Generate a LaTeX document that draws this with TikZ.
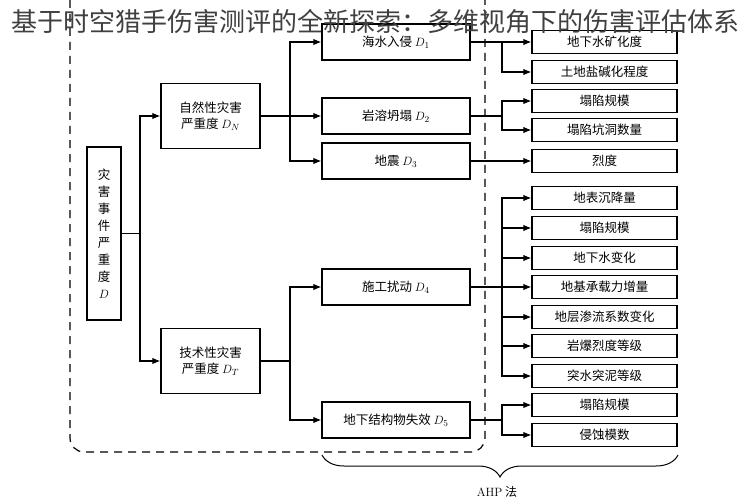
\documentclass[tikz,border=0pt]{standalone}
\usepackage{fontspec}
\setmainfont{Noto Sans CJK SC}
\newfontfamily\latinfont{Latin Modern Roman}
\usetikzlibrary{arrows.meta,decorations.pathreplacing}
\begin{document}
\begin{tikzpicture}[x=1pt,y=-1pt,
	box/.style={draw,line width=1.3pt,inner sep=0pt,align=center,font=\fontsize{12.5}{16}\selectfont},
	leaf/.style={box,minimum width=145pt,minimum height=23pt},
	mid/.style={box,minimum width=148pt,minimum height=36pt},
	cat/.style={box,minimum width=99pt,minimum height=65pt},
	link/.style={line width=1.1pt},
	arr/.style={link,-{Latex[length=8pt,width=6.5pt]}}]
	\useasboundingbox (0,0) rectangle (749,500);
	
	%AHP region
	\draw[line width=1.2pt,dash pattern=on 8pt off 6pt,rounded corners=14pt] (70,0) -- (70,452) -- (485,452) -- (485,0);
	
	%root and categories
	\node[box,minimum width=34pt,minimum height=173pt,font=\fontsize{12.5}{17}\selectfont] (root) at (104,233.5) {灾\\害\\事\\件\\严\\重\\度\\$D$};
	\node[cat] (nd) at (210.5,116) {自然性灾害\\严重度 $D_N$};
	\node[cat] (td) at (210.5,361) {技术性灾害\\严重度 $D_T$};
	
	%factors
	\node[mid] (d1) at (396,42) {海水入侵 $D_1$};
	\node[mid] (d2) at (396,116) {岩溶坍塌 $D_2$};
	\node[mid] (d3) at (396,161) {地震 $D_3$};
	\node[mid] (d4) at (396,287) {施工扰动 $D_4$};
	\node[mid] (d5) at (396,420) {地下结构物失效 $D_5$};
	
	%indicators
	\foreach \n/\y/\t in {l1/42/地下水矿化度, l2/72/土地盐碱化程度, l3/101/塌陷规模, l4/130/塌陷坑洞数量,
		l5/161/烈度, l6/198/地表沉降量, l7/228/塌陷规模, l8/258/地下水变化, l9/287/地基承载力增量,
		l10/317/地层渗流系数变化, l11/346/岩爆烈度等级, l12/376/突水突泥等级, l13/405/塌陷规模, l14/435/侵蚀模数}{
		\node[leaf] (\n) at (604.5,\y) {\t};
	}
	
	%root to categories
	\coordinate (r) at (140,233.5);
	\draw[link] (root.east) -- (r);
	\draw[arr] (r) |- (nd.west);
	\draw[arr] (r) |- (td.west);
	
	%categories to factors
	\coordinate (n) at (290,116);
	\draw[link] (nd.east) -- (n);
	\foreach \k in {1,2,3}{
		\draw[arr] (n) |- (d\k.west);
	}
	\coordinate (t) at (290,361);
	\draw[link] (td.east) -- (t);
	\foreach \k in {4,5}{
		\draw[arr] (t) |- (d\k.west);
	}
	
	%factors to indicators
	\coordinate (j1) at (502,42);
	\draw[arr] (d1.east) -- (l1.west);
	\draw[arr] (j1) |- (l2.west);
	\coordinate (j2) at (502,116);
	\draw[link] (d2.east) -- (j2);
	\foreach \k in {3,4}{
		\draw[arr] (j2) |- (l\k.west);
	}
	\draw[arr] (d3.east) -- (l5.west);
	\coordinate (j4) at (502,287);
	\draw[link] (d4.east) -- (j4);
	\foreach \k in {6,...,12}{
		\draw[arr] (j4) |- (l\k.west);
	}
	\coordinate (j5) at (502,420);
	\draw[link] (d5.east) -- (j5);
	\foreach \k in {13,14}{
		\draw[arr] (j5) |- (l\k.west);
	}
	
	%brace
	\draw[line width=1pt,decorate,decoration={brace,amplitude=22pt}] (678,455) -- (322,455);
	\node[font=\fontsize{12}{14}\selectfont] (ahp) at (497,492) {{\latinfont AHP} 法};
	
	%title
	\node[font=\fontsize{26}{26}\selectfont,text=black!75] (title) at (375,22) {基于时空猎手伤害测评的全新探索：多维视角下的伤害评估体系};
\end{tikzpicture}
\end{document}
